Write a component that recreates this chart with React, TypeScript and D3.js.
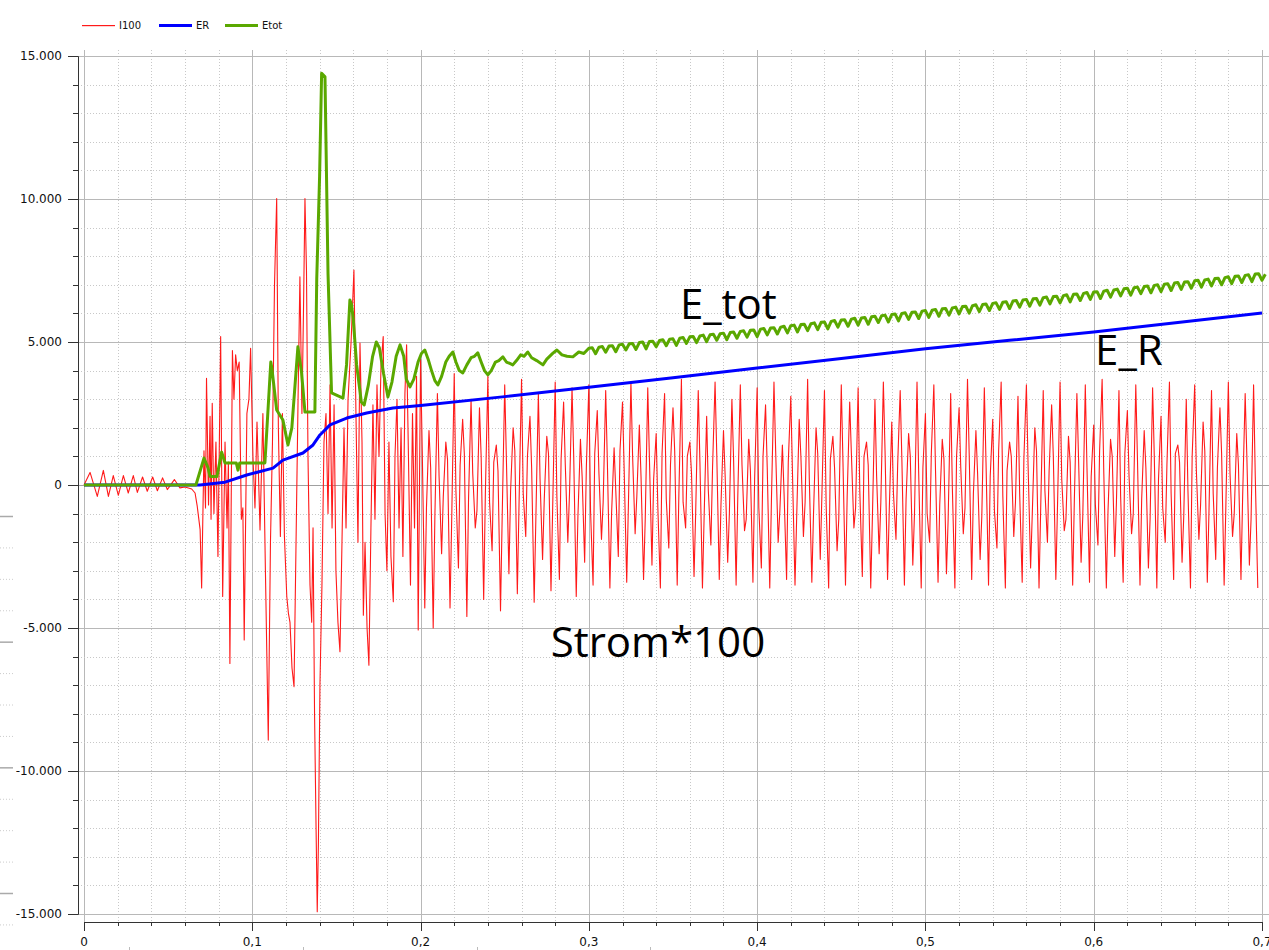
import React, { useEffect, useRef } from 'react'
import * as d3 from 'd3'

// axis ticks
const xTicks = [0, 0.1, 0.2, 0.3, 0.4, 0.5, 0.6, 0.7]
const xTickLabels = ['0', '0,1', '0,2', '0,3', '0,4', '0,5', '0,6', '0,7']
const yTicks = [-15000, -10000, -5000, 0, 5000, 10000, 15000]
const yTickLabels = ['-15.000', '-10.000', '-5.000', '0', '5.000', '10.000', '15.000']

const seriesNames = ['I100', 'ER', 'Etot']
const seriesColors = ['#ff1a1a', '#0000ff', '#5aa800']

// I100 (current * 100), start-up part as [time, value]
const i100Early: [number, number][] = [
  [0, 0],
  [0.0036, 440], [0.0079, -400], [0.0115, 510], [0.0145, -400], [0.0174, 330], [0.0204, -360],
  [0.0234, 330], [0.0263, -280], [0.0293, 330], [0.0317, -260], [0.0348, 280], [0.0376, -220],
  [0.0408, 280], [0.0436, -200], [0.0467, 250], [0.0495, -160], [0.0537, 190], [0.0570, -100],
  [0.0600, -70], [0.0640, -140], [0.0660, -280], [0.0673, -750], [0.0690, -1560], [0.0699, -3600],
  [0.0713, 1200], [0.0722, -800], [0.0728, 3730], [0.0740, -700], [0.0749, 2400], [0.0755, -1200],
  [0.0762, 2860], [0.0772, -1000], [0.0784, 1500], [0.0796, -2500], [0.0812, 5190], [0.0824, -3900],
  [0.0838, 1500], [0.0850, -1500], [0.0858, 800], [0.0867, -6240], [0.0882, 4700], [0.0891, 3000],
  [0.0901, 4550], [0.0911, 4000], [0.0922, 4300], [0.0935, -1200], [0.0944, -800], [0.0952, -5420],
  [0.0968, 2500], [0.0980, 3000], [0.0990, 4780], [0.1004, 1000], [0.1016, -800], [0.1028, 2200],
  [0.1046, -1570], [0.1063, 2500], [0.1078, -3000], [0.1095, -8920], [0.1108, -2000], [0.1120, 1500],
  [0.1132, 7000], [0.1145, 10020], [0.1155, 2000], [0.1167, -1800], [0.1179, 2500], [0.1191, -1800],
  [0.1205, -3900], [0.1215, -4500], [0.1224, -4800], [0.1236, -6400], [0.1248, -7050], [0.1260, -2000],
  [0.1272, 3000], [0.1283, 7280], [0.1295, 2500], [0.1304, 6000], [0.1313, 10020], [0.1322, 7500],
  [0.1331, 1000], [0.1343, -3500], [0.1353, -4800], [0.1361, -1500], [0.1370, -8000], [0.1379, -12000],
  [0.1386, -14920], [0.1393, -12500], [0.1402, -7000], [0.1414, -3500], [0.1426, 1500], [0.1438, 2500],
  [0.1450, -1000], [0.1462, 3500], [0.1474, -1500], [0.1486, 2800], [0.1497, -3000], [0.1509, -4800],
  [0.1521, -5830], [0.1533, -2000], [0.1545, 2000], [0.1557, -1500], [0.1569, 3000], [0.1587, 5000],
  [0.1604, 7520], [0.1616, 2500], [0.1628, -2000], [0.1640, 4960], [0.1652, 1500], [0.1660, -4550],
  [0.1670, -2000], [0.1682, -5000], [0.1693, -6300], [0.1705, -1500], [0.1717, 2800], [0.1729, -1200],
  [0.1741, 3500], [0.1753, 1000], [0.1765, 4200], [0.1778, 5190], [0.1789, -1000], [0.1800, -3000],
  [0.1812, 1500], [0.1824, -2500], [0.1838, -4080], [0.1848, 1000], [0.1860, 3000], [0.1872, -1500],
  [0.1884, 2000], [0.1895, -2500], [0.1907, 3200], [0.1917, 4900], [0.1928, 1000], [0.1940, -3500],
  [0.1952, 2500], [0.1964, -1500], [0.1976, 3800], [0.1986, -5070],
]

// I100 steady oscillation: peaks/troughs from t = 0.2 every 2.5 ms
const i100SteadyStart = 0.2
const i100SteadyStep = 0.0025
const i100Steady = [
  4400, -4300, 1900, -5000, 3200, -2400, 1500, -4300, 3900, -2900,
  2300, -4600, 3000, -1500, 2700, -4000, 3800, -2300, 1400, -4400,
  3500, -3100, 2000, -3800, 3700, -1800, 2400, -4100, 3200, -2600,
  1700, -3700, 3600, -3300, 2900, -2000, 3400, -3900, 1600, -2700,
  3500, -3500, 2600, -1900, 3300, -3600, 1300, -2500, 2900, -3400,
  3600, -1700, 2100, -3300, 3400, -2800, 1800, -3600, 3200, -2200,
  2700, -3500, 3700, -1500, 1500, -3200, 3300, -3600, 2400, -2100,
  3600, -3300, 1900, -2700, 3000, -3500, 3500, -1600, 1600, -3400,
  3400, -2900, 2800, -3600, 3600, -2000, 1400, -3300, 3100, -3500,
  2300, -1800, 3700, -3400, 2000, -2600, 3300, -3600, 1700, -2300,
  3500, -3500, 2900, -1500, 3400, -3200, 1500, -3600, 3000, -2400,
  3600, -3300, 2200, -1900, 3300, -3500, 1800, -2800, 3600, -3600,
  2500, -2000, 3500, -3400, 1600, -3100, 3200, -3600, 2700, -1700,
  3700, -3300, 1900, -2600, 3400, -3500, 2300, -2200, 3600, -3600,
  1500, -1800, 3100, -3400, 3500, -2900, 2000, -3600, 3300, -2000,
  2800, -3300, 3600, -1600, 1700, -3500, 3200, -2700, 3500, -3400,
  2100, -2100, 3700, -3600, 1600, -2500, 3300, -3400, 2600, -1700,
  3500, -3500, 1900, -2900, 3400, -3600, 2400, -2000, 3600, -3300,
  1400, -2700, 3000, -3600, 3500, -1900, 2200, -3400, 3300, -2600,
  2700, -3500, 3600, -1800, 1800, -3300, 3200, -2800, 3500, -3600,
]
// shoulders between successive peaks/troughs of the steady part
const i100Shoulders = [
  1200, -800, 600, -1100, 300, -400, 900, -1200, -200, 700, 1100, -500, 400, -900, 1000, -300, -600, 800, 500, -1100,
  900, -200, 1200, -700, -300, 1000, 600, -1200, 200, -500, 1100, -800, -400, 900, 700, -300, 1000, -1100, 300, 600,
  -900, 1100, 400, -600, 800, -1000, -200, 1200, 500, -700, 1000, -400, 300, -1200, 900, 200, -800, 1100, -500, 700,
  1200, -300, -600, 1000, 400, -900, 800, -1100, -200, 600, 1100, -700, 300, -1000, 900, -400, 700, -1200, 500, 200,
  -800, 1000, 600, -500, 1200, -900, -300, 800, 400, -1100, 1000, -600, 200, -1000, 1100, -300, -700, 900, 600, -1200,
  800, -400, 1100, -800, -200, 1000, 700, -1100, 300, -600, 1200, -900, -300, 700, 900, -500, 1000, -1000, 400, 600,
  -1000, 1100, 500, -700, 900, -1200, -100, 1000, 600, -800, 1100, -300, 400, -1100, 800, 300, -900, 1200, -400, 500,
  1000, -600, -300, 900, 700, -1000, 1200, -800, -200, 500, 1000, -700, 200, -1200, 800, -500, 900, -1100, 600, 300,
  -700, 1200, 400, -900, 1000, -600, -400, 1100, 300, -1000, 900, -500, 600, -1200, 1000, 200, -800, 700, -300, 1100,
  800, -1100, -200, 1000, 500, -700, 1200, -900, -300, 600, 1100, -800, 400, -1000, 700, -400, 1000, -1200, 300,
]

// ER as [time, value]
const erPoints: [number, number][] = [
  [0, 0], [0.0689, 0], [0.0838, 100], [0.0967, 350], [0.1123, 590], [0.1182, 870],
  [0.1301, 1120], [0.1361, 1400], [0.1402, 1750], [0.1462, 2100], [0.1561, 2340],
  [0.1680, 2520], [0.1836, 2690], [0.2, 2780], [0.25, 3090], [0.3, 3420], [0.35, 3750],
  [0.4, 4090], [0.45, 4420], [0.5, 4760], [0.55, 5060], [0.6, 5350], [0.65, 5680], [0.7, 6010],
]

// Etot start-up part as [time, value]
const etotEarly: [number, number][] = [
  [0, 0], [0.0665, 0], [0.0713, 940], [0.0737, 600], [0.0749, 300], [0.0790, 300],
  [0.0818, 1150], [0.0838, 770], [0.0905, 770], [0.0915, 520], [0.0925, 770], [0.1075, 770],
  [0.1110, 4300], [0.1116, 4100], [0.1145, 2620], [0.1182, 2270], [0.1212, 1400], [0.1235, 2000],
  [0.1271, 4830], [0.1293, 3920], [0.1313, 2550], [0.1372, 2550], [0.1383, 7200], [0.1400, 10800],
  [0.1412, 14400], [0.1432, 14270], [0.1450, 7400], [0.1471, 3220], [0.1539, 3040], [0.1560, 4200],
  [0.1580, 6470], [0.1590, 6300], [0.1600, 5800], [0.1620, 4200], [0.1648, 2900], [0.1665, 2800],
  [0.1690, 3500], [0.1715, 4500], [0.1737, 5000], [0.1755, 4800], [0.1780, 3900], [0.1806, 3080],
  [0.1830, 3600], [0.1855, 4500], [0.1878, 4900], [0.1900, 4500], [0.1915, 3700], [0.1937, 3430],
  [0.1960, 3700], [0.1985, 4300], [0.2005, 4600], [0.2025, 4720], [0.2045, 4400], [0.2065, 4000],
  [0.2085, 3650], [0.2103, 3500], [0.2125, 3800], [0.2150, 4300], [0.2170, 4500], [0.2192, 4650],
  [0.2210, 4300], [0.2230, 4000], [0.2251, 3920], [0.2275, 4200], [0.2300, 4450], [0.2320, 4500],
  [0.2340, 4620], [0.2360, 4300], [0.2380, 4000], [0.2400, 3850], [0.2420, 4000], [0.2445, 4300],
  [0.2465, 4350], [0.2489, 4480], [0.2510, 4300], [0.2530, 4250], [0.2548, 4200], [0.2570, 4350],
  [0.2595, 4550], [0.2615, 4500], [0.2637, 4650], [0.2660, 4450], [0.2690, 4350], [0.2727, 4200],
  [0.2750, 4400], [0.2785, 4600], [0.2810, 4720], [0.2840, 4550], [0.2870, 4500], [0.2905, 4480],
  [0.2940, 4650], [0.2970, 4600],
]

// Etot ripple from t = 0.3 every 2 ms
const etotSteadyStart = 0.3
const etotSteadyStep = 0.002
const etotSteady = [
  4780, 4800, 4590, 4820, 4840, 4640, 4860, 4870, 4660, 4900, 4920, 4720,
  4940, 4950, 4740, 4980, 5000, 4760, 5020, 5030, 4830, 5050, 5080, 4870,
  5100, 5110, 4880, 5130, 5160, 4950, 5180, 5190, 4980, 5210, 5240, 5010,
  5250, 5270, 5060, 5290, 5310, 5080, 5330, 5350, 5130, 5370, 5390, 5170,
  5410, 5420, 5190, 5450, 5470, 5250, 5490, 5500, 5280, 5520, 5550, 5320,
  5570, 5590, 5350, 5610, 5620, 5400, 5640, 5670, 5430, 5690, 5700, 5460,
  5720, 5750, 5520, 5770, 5780, 5550, 5800, 5830, 5590, 5840, 5860, 5620,
  5880, 5900, 5680, 5920, 5940, 5700, 5960, 5980, 5740, 6000, 6020, 5790,
  6040, 6050, 5820, 6080, 6100, 5860, 6110, 6140, 5900, 6160, 6170, 5940,
  6190, 6220, 5980, 6240, 6250, 6010, 6270, 6300, 6060, 6310, 6330, 6100,
  6350, 6370, 6140, 6390, 6410, 6170, 6430, 6450, 6220, 6470, 6490, 6250,
  6510, 6520, 6290, 6550, 6570, 6330, 6590, 6600, 6370, 6620, 6650, 6400,
  6670, 6680, 6450, 6700, 6730, 6490, 6750, 6760, 6520, 6780, 6810, 6570,
  6820, 6850, 6610, 6860, 6880, 6640, 6900, 6920, 6690, 6940, 6960, 6720,
  6980, 7000, 6760, 7020, 7040, 6800, 7060, 7080, 6840, 7100, 7110, 6880,
  7140, 7160, 6920, 7170, 7200, 6960, 7220, 7230, 7000, 7250, 7280, 7040,
  7300, 7310, 7080, 7330, 7350, 7110, 7380, 7390, 7160, 7370,
]

const annotations = [
  { text: 'E_tot', t: 0.3541, v: 5800 },
  { text: 'E_R', t: 0.6008, v: 4200 },
  { text: 'Strom*100', t: 0.2773, v: -6000 },
]

export default function App() {
  const svgRef = useRef<SVGSVGElement>(null)

  useEffect(() => {
    const width = 1269
    const height = 950
    const svg = d3.select(svgRef.current)
    svg.selectAll('*').remove()
    svg.attr('width', width).attr('height', height)

    const x = d3.scaleLinear().domain([0, 0.7]).range([84, 1262])
    const y = d3.scaleLinear().domain([-15000, 15000]).range([914, 56])
    const axisX = 78
    const axisY = 922

    svg.append('rect').attr('width', width).attr('height', height).attr('fill', '#fff')

    // stray axis fragment of a neighbouring window at the left edge
    const ghost = d3.scaleLinear().domain([0, 3]).range([516, 893])
    const ghostG = svg.append('g')
    d3.range(0, 3.26, 0.25).forEach(k => {
      const major = Math.abs(k - Math.round(k)) < 1e-6
      ghostG.append('line')
        .attr('x1', 0).attr('x2', 13)
        .attr('y1', ghost(k) + 0.5).attr('y2', ghost(k) + 0.5)
        .attr('stroke', major ? '#aaa' : '#ccc')
        .attr('stroke-width', major ? 1.5 : 1)
        .attr('stroke-dasharray', major ? null : '1,2')
    })

    // grid
    const grid = svg.append('g')
    d3.range(0, 0.7001, 0.02).forEach(t => {
      const major = Math.abs(t * 10 - Math.round(t * 10)) < 1e-6
      grid.append('line')
        .attr('x1', Math.round(x(t)) + 0.5).attr('x2', Math.round(x(t)) + 0.5)
        .attr('y1', 50).attr('y2', axisY)
        .attr('stroke', major ? '#b8b8b8' : '#c8c8c8')
        .attr('stroke-dasharray', major ? null : '1,2')
    })
    d3.range(-15000, 15001, 1000).forEach(v => {
      const major = v % 5000 === 0
      grid.append('line')
        .attr('x1', axisX).attr('x2', width)
        .attr('y1', Math.round(y(v)) + 0.5).attr('y2', Math.round(y(v)) + 0.5)
        .attr('stroke', major ? (v === 0 ? '#a0a0a0' : '#b8b8b8') : '#c8c8c8')
        .attr('stroke-dasharray', major ? null : '1,2')
    })

    // y axis
    const yAxis = svg.append('g').attr('stroke', '#333')
    yAxis.append('line')
      .attr('x1', axisX + 0.5).attr('x2', axisX + 0.5)
      .attr('y1', Math.round(y(15000)) + 0.5).attr('y2', Math.round(y(-15000)) + 0.5)
    d3.range(-15000, 15001, 1000).forEach(v => {
      const major = v % 5000 === 0
      yAxis.append('line')
        .attr('x1', major ? 68 : 73).attr('x2', axisX + 0.5)
        .attr('y1', Math.round(y(v)) + 0.5).attr('y2', Math.round(y(v)) + 0.5)
    })
    svg.append('g').selectAll('text').data(yTicks).join('text')
      .attr('x', 62).attr('y', d => y(d))
      .attr('dy', '0.35em')
      .attr('text-anchor', 'end')
      .attr('font-family', 'DejaVu Sans, sans-serif')
      .attr('font-size', 12)
      .attr('fill', '#111')
      .text((d, i) => yTickLabels[i])

    // x axis
    const xAxis = svg.append('g').attr('stroke', '#333')
    xAxis.append('line')
      .attr('x1', x(0)).attr('x2', x(0.7) + 0.5)
      .attr('y1', axisY + 0.5).attr('y2', axisY + 0.5)
    d3.range(0, 0.7001, 0.02).forEach(t => {
      const major = Math.abs(t * 10 - Math.round(t * 10)) < 1e-6
      xAxis.append('line')
        .attr('x1', Math.round(x(t)) + 0.5).attr('x2', Math.round(x(t)) + 0.5)
        .attr('y1', axisY).attr('y2', axisY + (major ? 9 : 4))
    })
    svg.append('g').selectAll('text').data(xTicks).join('text')
      .attr('x', d => x(d)).attr('y', 946)
      .attr('text-anchor', 'middle')
      .attr('font-family', 'DejaVu Sans, sans-serif')
      .attr('font-size', 12)
      .attr('fill', '#111')
      .text((d, i) => xTickLabels[i])
    ;[129, 303, 477, 650].forEach(px => {
      svg.append('rect').attr('x', px).attr('y', 947).attr('width', 1).attr('height', 3).attr('fill', '#bbb')
    })

    // series
    const line = d3.line<[number, number]>().x(d => x(d[0])).y(d => y(d[1]))
    const i100Data: [number, number][] = i100Early.slice()
    i100Steady.forEach((v, i) => {
      const t = i100SteadyStart + i * i100SteadyStep
      i100Data.push([t, v])
      if (i < i100Shoulders.length) i100Data.push([t + 0.4 * i100SteadyStep, i100Shoulders[i]])
    })
    const etotData: [number, number][] = etotEarly.concat(
      etotSteady.map((v, i) => [etotSteadyStart + i * etotSteadyStep, v] as [number, number])
    )
    const series: { data: [number, number][]; w: number }[] = [
      { data: i100Data, w: 1.1 },
      { data: erPoints, w: 3 },
      { data: etotData, w: 3 },
    ]
    series.forEach((s, i) => {
      svg.append('path')
        .datum(s.data)
        .attr('fill', 'none')
        .attr('stroke', seriesColors[i])
        .attr('stroke-width', s.w)
        .attr('stroke-linejoin', 'round')
        .attr('d', line)
    })

    // legend
    const legendX = [82, 159, 225]
    const legend = svg.append('g')
    seriesNames.forEach((name, i) => {
      legend.append('rect')
        .attr('x', legendX[i]).attr('width', 33)
        .attr('y', i === 0 ? 25 : 24).attr('height', i === 0 ? 1.2 : 3)
        .attr('fill', seriesColors[i])
      legend.append('text')
        .attr('x', legendX[i] + 37).attr('y', 29)
        .attr('font-family', 'DejaVu Sans, sans-serif')
        .attr('font-size', 10)
        .attr('fill', '#111')
        .text(name)
    })

    // annotations
    svg.append('g').selectAll('text').data(annotations).join('text')
      .attr('x', d => x(d.t)).attr('y', d => y(d.v))
      .attr('font-family', 'Open Sans, sans-serif')
      .attr('font-size', 42)
      .attr('fill', '#000')
      .text(d => d.text)
  }, [])

  return (
    <div style={{ position: 'absolute', left: 0, top: 0 }}>
      <svg ref={svgRef}></svg>
    </div>
  )
}
